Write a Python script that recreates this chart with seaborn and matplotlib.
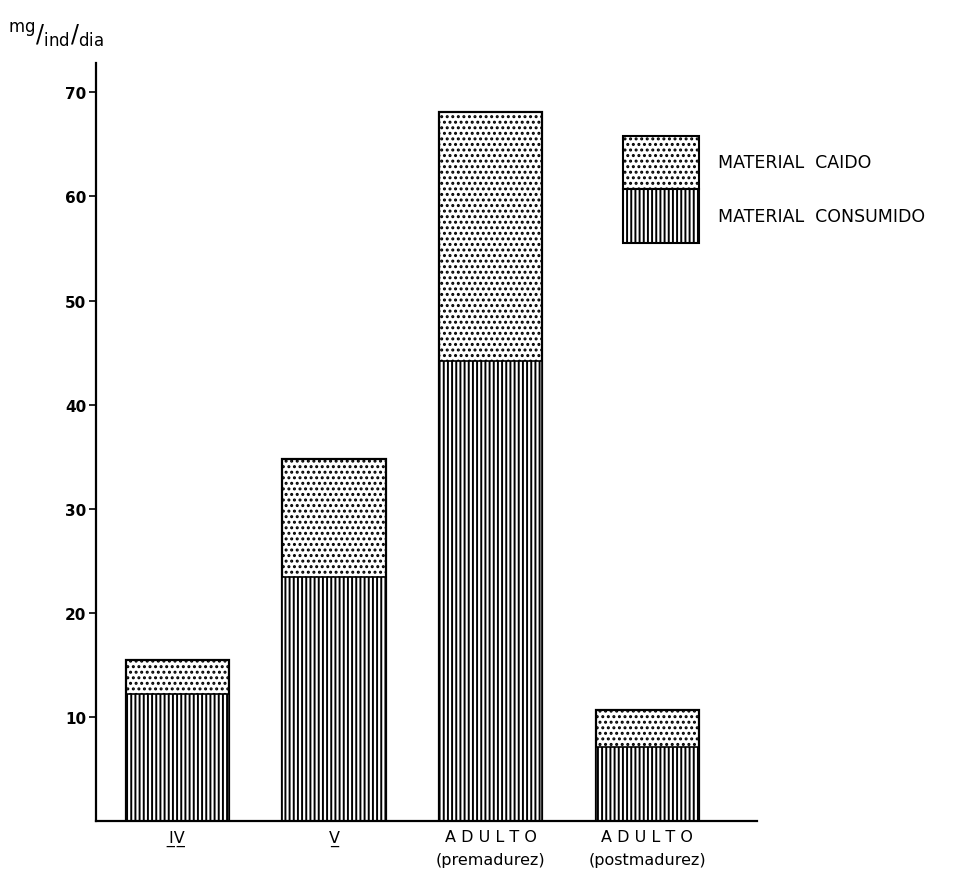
import matplotlib
matplotlib.use("Agg")
import matplotlib.pyplot as plt
import matplotlib.patches as mpatches
import seaborn as sns

# values (mg/ind/dia)
categories = ["IV", "V", "ADULTO pre", "ADULTO post"]
tick_labels = ["I\u0332V\u0332", "V\u0332",
               "A D U L T O\n(premadurez)", "A D U L T O\n(postmadurez)"]
consumido = [12.2, 23.4, 44.2, 7.1]
caido = [3.3, 11.4, 23.9, 3.6]
total = [c + f for c, f in zip(consumido, caido)]
legend_labels = ["MATERIAL  CAIDO", "MATERIAL  CONSUMIDO"]

sns.set_style("ticks", {"axes.edgecolor": "black", "text.color": "black",
                        "xtick.color": "black", "ytick.color": "black"})
plt.rcParams["font.family"] = ["DejaVu Sans"]
plt.rcParams["mathtext.fontset"] = "dejavusans"
plt.rcParams["hatch.color"] = "black"
plt.rcParams["hatch.linewidth"] = 1.4

fig = plt.figure(figsize=(9.54, 8.7), dpi=100)
ax = fig.add_axes([0.1006, 0.0552, 0.693, 0.871])

# total bar dotted, consumed part drawn over it with vertical lines
sns.barplot(x=categories, y=total, color="white", edgecolor="black",
            linewidth=1.6, hatch="...", width=0.66, ax=ax)
sns.barplot(x=categories, y=consumido, color="white", edgecolor="black",
            linewidth=1.2, hatch="||||", width=0.66, ax=ax)

ax.set_ylim(0, 72.8)
ax.set_xlim(-0.52, 3.70)
ax.set_yticks([10, 20, 30, 40, 50, 60, 70])
ax.set_yticklabels([str(v) for v in [10, 20, 30, 40, 50, 60, 70]],
                   fontweight="bold", fontsize=11)
ax.set_xticks(range(len(categories)))
ax.set_xticklabels(tick_labels, fontsize=11.5, linespacing=1.6)
ax.tick_params(axis="x", length=0, pad=6)
ax.tick_params(axis="y", length=5, width=1.2, pad=2)
for s in ["left", "bottom"]:
    ax.spines[s].set_linewidth(1.6)
sns.despine(ax=ax)
ax.set_xlabel("")
ax.set_ylabel("")

fig.text(0.008, 0.942, r"$^{\mathrm{mg}}/_{\mathrm{ind}}/_{\mathrm{dia}}$",
         fontsize=17, ha="left", va="bottom")

h_caido = mpatches.Patch(facecolor="white", edgecolor="black", hatch="...", linewidth=1.5)
h_cons = mpatches.Patch(facecolor="white", edgecolor="black", hatch="||||", linewidth=1.5)
ax.legend([h_caido, h_cons], legend_labels,
          loc="upper left", bbox_to_anchor=(623 / 954, 1 - 137 / 870),
          bbox_transform=fig.transFigure, frameon=False, fontsize=12.5,
          handlelength=4.4, handleheight=4.35, labelspacing=0.0,
          borderpad=0, borderaxespad=0, handletextpad=1.05)

plt.savefig("out.png", dpi=100)
